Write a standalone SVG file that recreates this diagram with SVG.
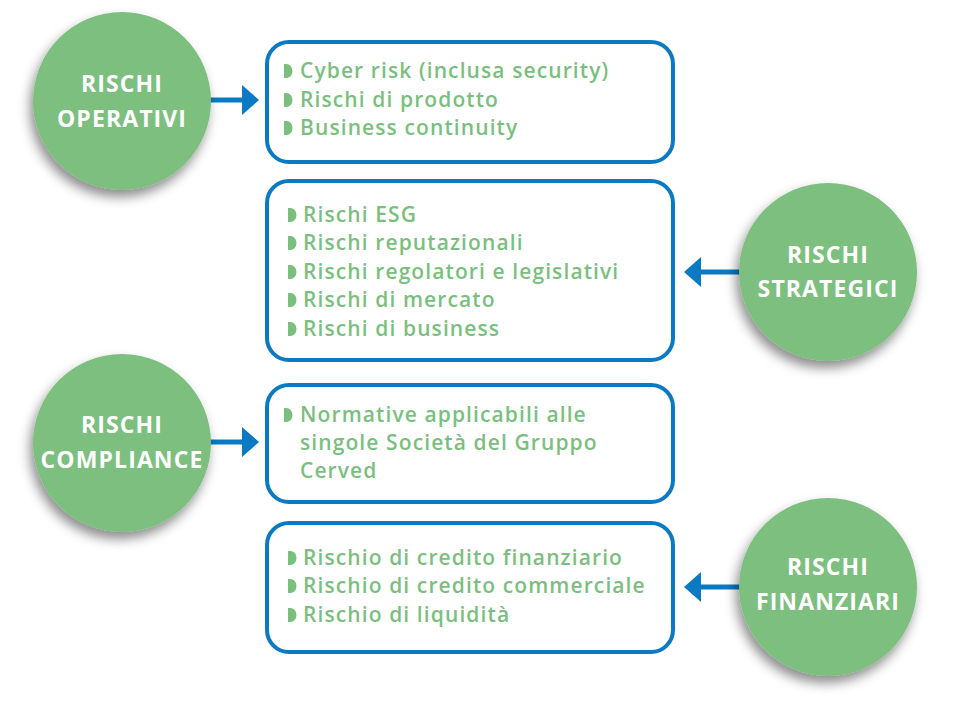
<svg xmlns="http://www.w3.org/2000/svg" width="960" height="706" viewBox="0 0 960 706">
  <defs>
    <filter id="shadow" x="-30%" y="-30%" width="160%" height="170%">
      <feDropShadow dx="-3" dy="7" stdDeviation="6" flood-color="#000" flood-opacity="0.45"/>
    </filter>
    <marker id="head" markerUnits="userSpaceOnUse" viewBox="0 -15 17 30" markerWidth="17" markerHeight="30" refX="0" refY="0" orient="auto">
      <path d="M0,-15 L17,0 L0,15 Z" fill="#0B7AC3"/>
    </marker>
    <path id="bullet" d="M0,0 H2.5 A6,7 0 0 1 2.5,14 H0 Z" fill="#7BBF7F"/>
  </defs>
  <style>
    .circle { fill: #7BBF7F; filter: url(#shadow); }
    .ctext { fill: #ffffff; font-family: "Open Sans", "Liberation Sans", sans-serif; font-weight: 700; font-size: 23px; letter-spacing: 1.1px; text-anchor: middle; }
    .box { fill: #ffffff; stroke: #0B7AC3; stroke-width: 4; }
    .btext { fill: #7BBF7F; font-family: "Open Sans", "Liberation Sans", sans-serif; font-weight: 600; font-size: 21px; letter-spacing: 1.1px; }
    .conn { stroke: #0B7AC3; stroke-width: 5; fill: none; marker-end: url(#head); }
  </style>

  <g id="connectors">
    <path class="conn" d="M210,100 H242"/>
    <path class="conn" d="M742,272 H701"/>
    <path class="conn" d="M210,442 H242"/>
    <path class="conn" d="M742,587 H701"/>
  </g>

  <g id="rischi-operativi">
    <circle class="circle" cx="122" cy="101" r="89"/>
    <text class="ctext" x="122" y="92">RISCHI</text>
    <text class="ctext" x="122" y="127">OPERATIVI</text>
  </g>

  <g id="box-operativi">
    <rect class="box" x="267" y="42" width="406" height="120" rx="22"/>
    <use href="#bullet" x="284" y="64"/>
    <use href="#bullet" x="284" y="93"/>
    <use href="#bullet" x="284" y="121"/>
    <text class="btext" x="300" y="78">Cyber risk (inclusa security)</text>
    <text class="btext" x="300" y="107">Rischi di prodotto</text>
    <text class="btext" x="300" y="135">Business continuity</text>
  </g>

  <g id="rischi-strategici">
    <circle class="circle" cx="828" cy="272" r="89"/>
    <text class="ctext" x="828" y="263">RISCHI</text>
    <text class="ctext" x="828" y="297">STRATEGICI</text>
  </g>

  <g id="box-strategici">
    <rect class="box" x="267" y="181" width="406" height="179" rx="22"/>
    <use href="#bullet" x="288" y="208"/>
    <use href="#bullet" x="288" y="236"/>
    <use href="#bullet" x="288" y="265"/>
    <use href="#bullet" x="288" y="293"/>
    <use href="#bullet" x="288" y="322"/>
    <text class="btext" x="303" y="222">Rischi ESG</text>
    <text class="btext" x="303" y="250">Rischi reputazionali</text>
    <text class="btext" x="303" y="279">Rischi regolatori e legislativi</text>
    <text class="btext" x="303" y="307">Rischi di mercato</text>
    <text class="btext" x="303" y="336">Rischi di business</text>
  </g>

  <g id="rischi-compliance">
    <circle class="circle" cx="122" cy="443" r="89"/>
    <text class="ctext" x="122" y="433">RISCHI</text>
    <text class="ctext" x="122" y="468">COMPLIANCE</text>
  </g>

  <g id="box-compliance">
    <rect class="box" x="267" y="385" width="406" height="117" rx="22"/>
    <use href="#bullet" x="284" y="408"/>
    <text class="btext" x="300" y="422">Normative applicabili alle</text>
    <text class="btext" x="300" y="450">singole Società del Gruppo</text>
    <text class="btext" x="300" y="478">Cerved</text>
  </g>

  <g id="rischi-finanziari">
    <circle class="circle" cx="828" cy="587" r="89"/>
    <text class="ctext" x="828" y="575">RISCHI</text>
    <text class="ctext" x="828" y="610">FINANZIARI</text>
  </g>

  <g id="box-finanziari">
    <rect class="box" x="267" y="523" width="406" height="129" rx="22"/>
    <use href="#bullet" x="288" y="551"/>
    <use href="#bullet" x="288" y="579"/>
    <use href="#bullet" x="288" y="608"/>
    <text class="btext" x="303" y="565">Rischio di credito finanziario</text>
    <text class="btext" x="303" y="593">Rischio di credito commerciale</text>
    <text class="btext" x="303" y="622">Rischio di liquidità</text>
  </g>
</svg>
